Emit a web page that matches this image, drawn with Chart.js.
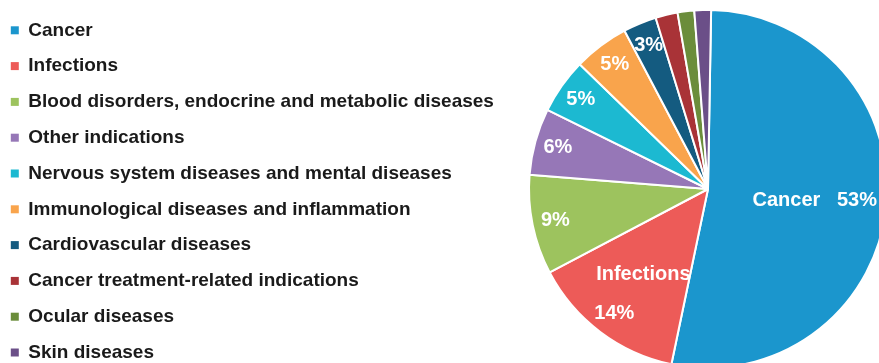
<!DOCTYPE html>
<html>
<head>
<meta charset="utf-8">
<script src="https://cdn.jsdelivr.net/npm/chart.js@4.4.1/dist/chart.umd.min.js"></script>
<style>
  html, body { margin: 0; padding: 0; width: 879px; height: 363px; overflow: hidden; background: #ffffff; }
  #wrap { position: absolute; left: -6px; top: -3px; width: 1428px; height: 384px; }
  canvas { display: block; }
</style>
</head>
<body>
<div id="wrap"><canvas id="c" width="1428" height="384" style="width:1428px;height:384px"></canvas></div>
<script>
// ---- data ----
const categories = [
  'Cancer',
  'Infections',
  'Blood disorders, endocrine and metabolic diseases',
  'Other indications',
  'Nervous system diseases and mental diseases',
  'Immunological diseases and inflammation',
  'Cardiovascular diseases',
  'Cancer treatment-related indications',
  'Ocular diseases',
  'Skin diseases'
];
const shares = [53, 14, 9, 6, 5, 5, 3, 2, 1.5, 1.5];
const sliceColors = [
  '#1b96cd', '#ed5b58', '#9dc35e', '#9677b7', '#1cb9d1',
  '#f9a44c', '#145b80', '#a93337', '#6b8d3b', '#6b4f88'
];
const namedSlices = ['Cancer', 'Infections'];
const minLabelShare = 3;

// ---- slice label plugin ----
const sliceLabels = {
  id: 'sliceLabels',
  afterDatasetsDraw(chart) {
    const ctx = chart.ctx;
    const meta = chart.getDatasetMeta(0);
    ctx.save();
    ctx.fillStyle = '#ffffff';
    ctx.font = "bold 20px 'Liberation Sans', Arial, sans-serif";
    ctx.textAlign = 'center';
    ctx.textBaseline = 'middle';
    meta.data.forEach((arc, i) => {
      const v = shares[i];
      if (v < minLabelShare) return;
      const p = arc.getProps(['x', 'y', 'startAngle', 'endAngle', 'outerRadius'], true);
      const mid = (p.startAngle + p.endAngle) / 2;
      const at = (f) => [p.x + Math.cos(mid) * p.outerRadius * f, p.y + Math.sin(mid) * p.outerRadius * f];
      const pct = Math.round(v) + '%';
      const name = categories[i];
      if (namedSlices.includes(name)) {
        if (v >= 25) {
          const [lx, ly] = at(0.6);
          ctx.fillText(name + '   ' + pct, lx, ly);
        } else {
          const [nx, ny] = at(0.6);
          ctx.fillText(name, nx, ny);
          const [px, py] = at(0.87);
          ctx.fillText(pct, px, py);
        }
      } else {
        const [px, py] = at(0.87);
        ctx.fillText(pct, px, py);
      }
    });
    ctx.restore();
  }
};

const defaultLabels = Chart.overrides.doughnut.plugins.legend.labels.generateLabels;

new Chart(document.getElementById('c'), {
  type: 'pie',
  data: {
    labels: categories,
    datasets: [{
      data: shares,
      backgroundColor: sliceColors,
      borderColor: '#ffffff',
      borderWidth: 2
    }]
  },
  options: {
    responsive: false,
    animation: false,
    radius: 179,
    rotation: 1,
    layout: { padding: 0 },
    plugins: {
      tooltip: { enabled: false },
      legend: {
        position: 'chartArea',
        align: 'start',
        title: { display: true, text: '', padding: 0, font: { size: 7, lineHeight: 1 } },
        labels: {
          boxWidth: 8,
          boxHeight: 8,
          padding: 16.8,
          color: '#1a1a1a',
          font: { family: "'Liberation Sans', Arial, sans-serif", size: 19, weight: 'bold' },
          generateLabels(chart) {
            const items = defaultLabels(chart);
            items.forEach(it => { it.lineWidth = 0; it.strokeStyle = 'rgba(0,0,0,0)'; });
            return items;
          }
        }
      }
    }
  },
  plugins: [sliceLabels]
});
</script>
</body>
</html>
